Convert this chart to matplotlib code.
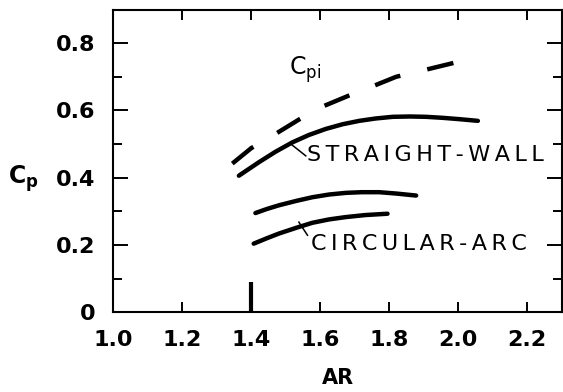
import matplotlib
matplotlib.use("Agg")
import matplotlib.pyplot as plt
from matplotlib.ticker import MultipleLocator, FixedLocator, FuncFormatter

plt.rcParams["font.family"] = ["DejaVu Sans"]
plt.rcParams["mathtext.fontset"] = "dejavusans"
plt.rcParams["lines.scale_dashes"] = False

# Ideal (inviscid) pressure recovery
ar_cpi = [1.345, 1.40, 1.47, 1.54, 1.61, 1.685, 1.75, 1.82, 1.91, 1.99]
cp_cpi = [0.442, 0.488, 0.530, 0.574, 0.613, 0.645, 0.671, 0.700, 0.722, 0.742]

# Straight-wall diffuser
ar_straight = [1.364, 1.422, 1.47, 1.519, 1.567, 1.616, 1.665, 1.713, 1.76, 1.810,
               1.86, 1.907, 1.955, 2.004, 2.057]
cp_straight = [0.406, 0.446, 0.477, 0.505, 0.527, 0.545, 0.559, 0.569, 0.576, 0.581,
               0.582, 0.581, 0.578, 0.574, 0.569]

# Circular-arc diffusers
ar_arc_upper = [1.412, 1.445, 1.480, 1.53, 1.577, 1.625, 1.674, 1.72, 1.771, 1.82, 1.878]
cp_arc_upper = [0.295, 0.307, 0.318, 0.331, 0.342, 0.350, 0.355, 0.357, 0.357, 0.353, 0.347]
ar_arc_lower = [1.407, 1.445, 1.480, 1.53, 1.577, 1.625, 1.674, 1.73, 1.795]
cp_arc_lower = [0.204, 0.220, 0.234, 0.251, 0.266, 0.276, 0.283, 0.289, 0.293]

# Design-point marker on the AR axis
ar_marker = 1.4
marker_height = 0.089

x_ticks = [1.0, 1.2, 1.4, 1.6, 1.8, 2.0, 2.2]
y_ticks = [0.0, 0.2, 0.4, 0.6, 0.8]

W, H = 563, 392
fig = plt.figure(figsize=(W / 100, H / 100), dpi=100)
L, R, T, B = 113.3, 561.7, 9.5, 312.3
ax = fig.add_axes([L / W, 1 - B / H, (R - L) / W, (B - T) / H])
ax.set_xlim(1.0, 2.3)
ax.set_ylim(0.0, 0.9)

for s in ax.spines.values():
    s.set_linewidth(1.5)

ax.xaxis.set_major_locator(FixedLocator(x_ticks))
ax.yaxis.set_major_locator(FixedLocator(y_ticks))
ax.yaxis.set_minor_locator(MultipleLocator(0.1))
ax.xaxis.set_major_formatter(FuncFormatter(lambda v, p: f"{v:.1f}"))
ax.yaxis.set_major_formatter(FuncFormatter(lambda v, p: "0" if v == 0 else f"{v:.1f}"))

ax.tick_params(axis="both", which="both", direction="in", top=True, right=True,
               width=1.4, colors="black")
ax.tick_params(axis="x", which="major", length=7, pad=13, labelsize=16)
ax.tick_params(axis="y", which="major", length=11, pad=13, labelsize=16)
ax.tick_params(axis="y", which="minor", length=6.5)
for lab in ax.get_xticklabels() + ax.get_yticklabels():
    lab.set_fontweight("bold")

lw = 3.2
ax.plot(ar_cpi, cp_cpi, color="black", lw=lw, dashes=(19.4, 19.9),
        dash_capstyle="butt")
ax.plot(ar_straight, cp_straight, color="black", lw=lw, solid_capstyle="round")
ax.plot(ar_arc_upper, cp_arc_upper, color="black", lw=lw, solid_capstyle="round")
ax.plot(ar_arc_lower, cp_arc_lower, color="black", lw=lw, solid_capstyle="round")

ax.plot([ar_marker, ar_marker], [0, marker_height], color="black", lw=3,
        solid_capstyle="butt")

# Leader lines from the labels to their curves
ax.plot([1.515, 1.558], [0.500, 0.465], color="black", lw=1.1)
ax.plot([1.538, 1.563], [0.268, 0.229], color="black", lw=1.1)

sp = "\u2009"
ax.text(1.509, 0.72, r"$\mathrm{C_{pi}}$", fontsize=17, ha="left", va="center")
ax.text(1.562, 0.468, sp.join("STRAIGHT-WALL"), fontsize=16, ha="left", va="center")
ax.text(1.573, 0.204, sp.join("CIRCULAR-ARC"), fontsize=16, ha="left", va="center")

ax.set_xlabel("AR", fontsize=15, fontweight="bold", labelpad=13)
ax.set_ylabel(r"$\mathbf{C_p}$", fontsize=17, rotation=0, ha="center", va="center")
ax.yaxis.set_label_coords(-0.2, 0.443)

fig.savefig("out.png", dpi=100, facecolor="white")
